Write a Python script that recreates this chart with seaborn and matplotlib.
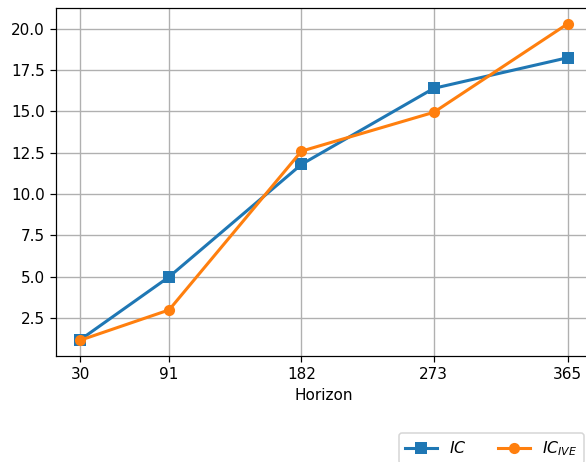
import matplotlib
matplotlib.use("Agg")
import matplotlib.pyplot as plt
import seaborn as sns
import pandas as pd

# Forecast horizons (days) and the two measured series
horizons = [30, 91, 182, 273, 365]
ic_values = [1.2, 5.0, 11.8, 16.4, 18.25]
ic_ive_values = [1.17, 3.0, 12.6, 14.95, 20.3]
series_labels = ["$IC$", "$IC_{IVE}$"]

df = pd.DataFrame({
    "Horizon": horizons * 2,
    "value": ic_values + ic_ive_values,
    "series": [series_labels[0]] * len(horizons) + [series_labels[1]] * len(horizons),
})

dpi = 110
fig = plt.figure(figsize=(586 / dpi, 462 / dpi), dpi=dpi)
ax = fig.add_axes([56 / 586, 1 - 356 / 462, 536 / 586, 348 / 462])

palette = {series_labels[0]: "#1f77b4", series_labels[1]: "#ff7f0e"}
markers = {series_labels[0]: "s", series_labels[1]: "o"}
for lab in series_labels:
    sub = df[df["series"] == lab]
    sns.lineplot(data=sub, x="Horizon", y="value", ax=ax, color=palette[lab],
                 marker=markers[lab], markersize=7.3, markeredgewidth=0,
                 linewidth=2, label=lab)

ax.set_xticks(horizons)
ax.set_xticklabels([str(h) for h in horizons])
ax.set_xlabel("Horizon")
ax.set_ylabel("")
ax.grid(True, color="#b0b0b0", linewidth=0.9)
ax.set_axisbelow(True)
ax.tick_params(length=3.8)

ax.legend(loc="upper right", ncol=2, bbox_to_anchor=(584 / 586, 1 - 433 / 462),
          bbox_transform=fig.transFigure, borderaxespad=0, fontsize=10.3,
          handlelength=2.0)

fig.savefig("out.png", dpi=dpi)
